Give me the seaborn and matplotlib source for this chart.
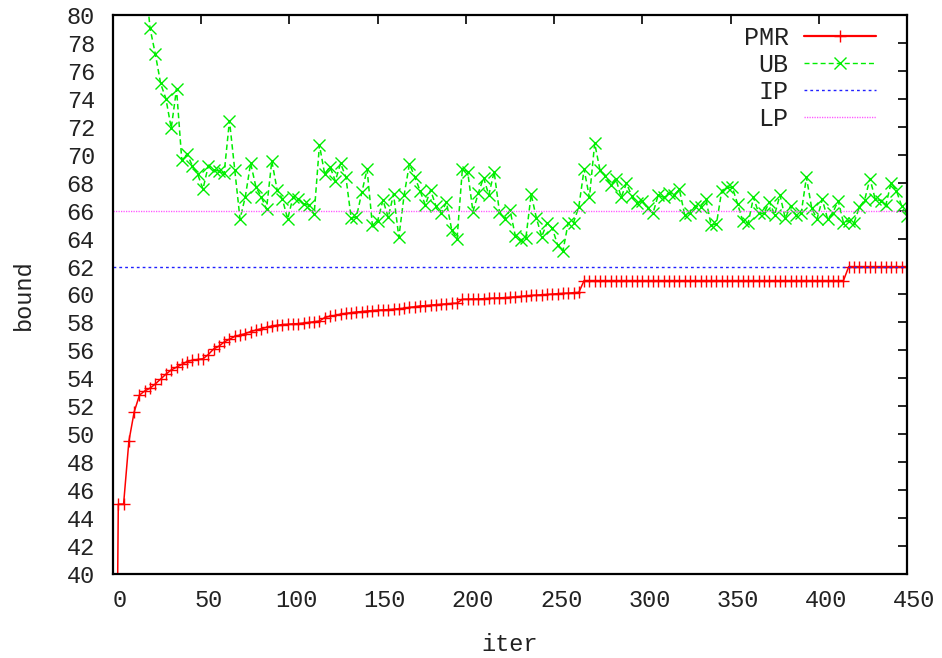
import matplotlib
matplotlib.use("Agg")
import matplotlib.pyplot as plt
import pandas as pd
import seaborn as sns
from matplotlib.lines import Line2D
from matplotlib.transforms import ScaledTranslation

# ---------------- data ----------------
pmr_iter = list(range(0, 451, 3))
pmr_bound = [
    0.0, 45.0, 45.0, 49.5, 51.6, 52.8, 53.1, 53.3, 53.6, 53.95,
    54.3, 54.6, 54.8, 55.0, 55.2, 55.3, 55.35, 55.4, 55.7, 56.1,
    56.3, 56.6, 56.8, 57.0, 57.1, 57.2, 57.35, 57.45, 57.55, 57.65,
    57.75, 57.8, 57.85, 57.87, 57.9, 57.92, 57.96, 58.0, 58.05, 58.1,
    58.35, 58.45, 58.5, 58.6, 58.65, 58.7, 58.75, 58.78, 58.82, 58.85,
    58.88, 58.9, 58.92, 58.95, 58.98, 59.02, 59.08, 59.12, 59.18, 59.2,
    59.24, 59.27, 59.3, 59.33, 59.36, 59.38, 59.66, 59.67, 59.68, 59.68,
    59.7, 59.72, 59.74, 59.76, 59.78, 59.8, 59.83, 59.86, 59.9, 59.93,
    59.96, 59.98, 60.0, 60.03, 60.06, 60.08, 60.1, 60.13, 60.15,
    61.0, 61.0, 61.0, 61.0, 61.0, 61.0, 61.0, 61.0, 61.0, 61.0,
    61.0, 61.0, 61.0, 61.0, 61.0, 61.0, 61.0, 61.0, 61.0, 61.0,
    61.0, 61.0, 61.0, 61.0, 61.0, 61.0, 61.0, 61.0, 61.0, 61.0,
    61.0, 61.0, 61.0, 61.0, 61.0, 61.0, 61.0, 61.0, 61.0, 61.0,
    61.0, 61.0, 61.0, 61.0, 61.0, 61.0, 61.0, 61.0, 61.0, 61.0,
    62.0, 62.0, 62.0, 62.0, 62.0, 62.0, 62.0, 62.0, 62.0, 62.0,
    62.0, 62.0,
]

ub_iter = list(range(18, 451, 3))
ub_bound = [
    83.0, 79.05, 77.2, 75.1, 74.0, 71.9, 74.7, 69.6, 70.05, 69.2,
    68.6, 67.55, 69.2, 68.9, 68.84, 68.67, 72.44, 68.9, 65.4, 67.0,
    69.4, 67.7, 67.0, 66.1, 69.56, 67.5, 66.83, 65.4, 66.95, 66.83,
    66.48, 66.4, 65.74, 70.7, 68.6, 69.15, 68.12, 69.39, 68.39, 65.45,
    65.57, 67.3, 68.96, 64.97, 65.28, 66.76, 65.52, 67.19, 64.09, 67.12,
    69.34, 68.43, 67.43, 66.4, 67.48, 66.33, 65.86, 66.6, 64.6, 64.0,
    68.96, 68.79, 65.93, 67.24, 68.36, 67.12, 68.79, 65.93, 65.4, 66.05,
    64.2, 63.9, 64.06, 67.17, 65.45, 64.14, 65.14, 64.74, 63.54, 63.11,
    65.14, 65.14, 66.28, 68.96, 66.95, 70.82, 68.9, 68.5, 67.85, 68.3,
    66.95, 67.95, 67.05, 66.52, 66.7, 66.17, 65.8, 67.12, 66.95, 67.28,
    67.12, 67.52, 65.7, 65.86, 66.33, 66.29, 66.81, 64.97, 65.04, 67.43,
    67.67, 67.67, 66.48, 65.23, 65.12, 66.95, 65.8, 65.8, 66.64, 65.7,
    67.12, 65.45, 66.33, 65.7, 65.8, 68.39, 66.17, 65.4, 66.81, 65.4,
    65.86, 66.72, 65.14, 65.28, 65.14, 66.24, 66.76, 68.3, 66.81, 66.72,
    66.4, 68.0, 67.43, 66.33, 65.62,
]

ip_bound = 62
lp_bound = 66

series_names = ["PMR", "UB", "IP", "LP"]
x_ticks = [0, 50, 100, 150, 200, 250, 300, 350, 400, 450]
y_ticks = [40, 42, 44, 46, 48, 50, 52, 54, 56, 58, 60,
           62, 64, 66, 68, 70, 72, 74, 76, 78, 80]

# ---------------- styling ----------------
sns.set_style("white")
plt.rcParams["font.family"] = ["Liberation Mono", "DejaVu Sans Mono"]

colors = {"PMR": "#ff0000", "UB": "#00ee00", "IP": "#2020ff", "LP": "#ff55ff"}

df = pd.concat([
    pd.DataFrame({"iter": pmr_iter, "bound": pmr_bound, "series": "PMR"}),
    pd.DataFrame({"iter": ub_iter, "bound": ub_bound, "series": "UB"}),
], ignore_index=True)

fig = plt.figure(figsize=(9.42, 6.58), dpi=100)
ax = fig.add_axes([113 / 942, 1 - 574 / 658, 794 / 942, 559 / 658])

sns.lineplot(
    data=df, x="iter", y="bound", hue="series", style="series",
    palette={"PMR": colors["PMR"], "UB": colors["UB"]},
    markers={"PMR": "+", "UB": "x"},
    dashes={"PMR": "", "UB": (3.6, 2.2)},
    markersize=8, markeredgewidth=1.0, linewidth=1.1,
    legend=False, ax=ax, sort=True,
)
# unfilled markers take the colour of their own line
for ln in ax.lines:
    ln.set_markeredgecolor(ln.get_color())
    ln.set_markerfacecolor(ln.get_color())

ax.axhline(ip_bound, color=colors["IP"], lw=1.0, dashes=(2.0, 2.2))
ax.axhline(lp_bound, color=colors["LP"], lw=1.0, dashes=(0.9, 0.9))

ax.set_xlim(0, 450)
ax.set_ylim(40, 80)
ax.set_xticks(x_ticks)
ax.set_yticks(y_ticks)
ax.set_xticklabels([str(v) for v in x_ticks])
ax.set_yticklabels([str(v) for v in y_ticks])

for s in ax.spines.values():
    s.set_visible(True)
    s.set_linewidth(1.6)
    s.set_color("black")

ax.tick_params(axis="both", which="major", direction="in", length=6.5, width=1.2,
               top=True, right=True, labelsize=17, colors="black",
               labelcolor="#222222")
ax.tick_params(axis="x", pad=11)
ax.tick_params(axis="y", pad=13)

offset = ScaledTranslation(7 / 100, 0, fig.dpi_scale_trans)
for lab in ax.get_xticklabels():
    lab.set_transform(lab.get_transform() + offset)

ax.set_xlabel("iter", fontsize=17, color="#222222")
ax.set_ylabel("bound", fontsize=17, color="#222222")
ax.xaxis.set_label_coords(0.5, -0.105)
ax.yaxis.set_label_coords(-0.098, 0.5)

handles = [
    Line2D([], [], color=colors["PMR"], lw=1.6, marker="+", markersize=8, mew=1.0),
    Line2D([], [], color=colors["UB"], lw=1.0, marker="x", markersize=8, mew=1.0, dashes=(3.6, 2.2)),
    Line2D([], [], color=colors["IP"], lw=1.0, dashes=(2.0, 2.2)),
    Line2D([], [], color=colors["LP"], lw=1.0, dashes=(0.9, 0.9)),
]
leg = ax.legend(handles, series_names, loc="upper right",
                bbox_to_anchor=((876 - 113) / 794, (574 - 26) / 559),
                markerfirst=False, frameon=False, fontsize=18,
                handlelength=2.9, handletextpad=0.6, labelspacing=0.12,
                borderpad=0, borderaxespad=0, numpoints=1)
for t in leg.get_texts():
    t.set_color("#222222")

fig.savefig("out.png", dpi=100)
